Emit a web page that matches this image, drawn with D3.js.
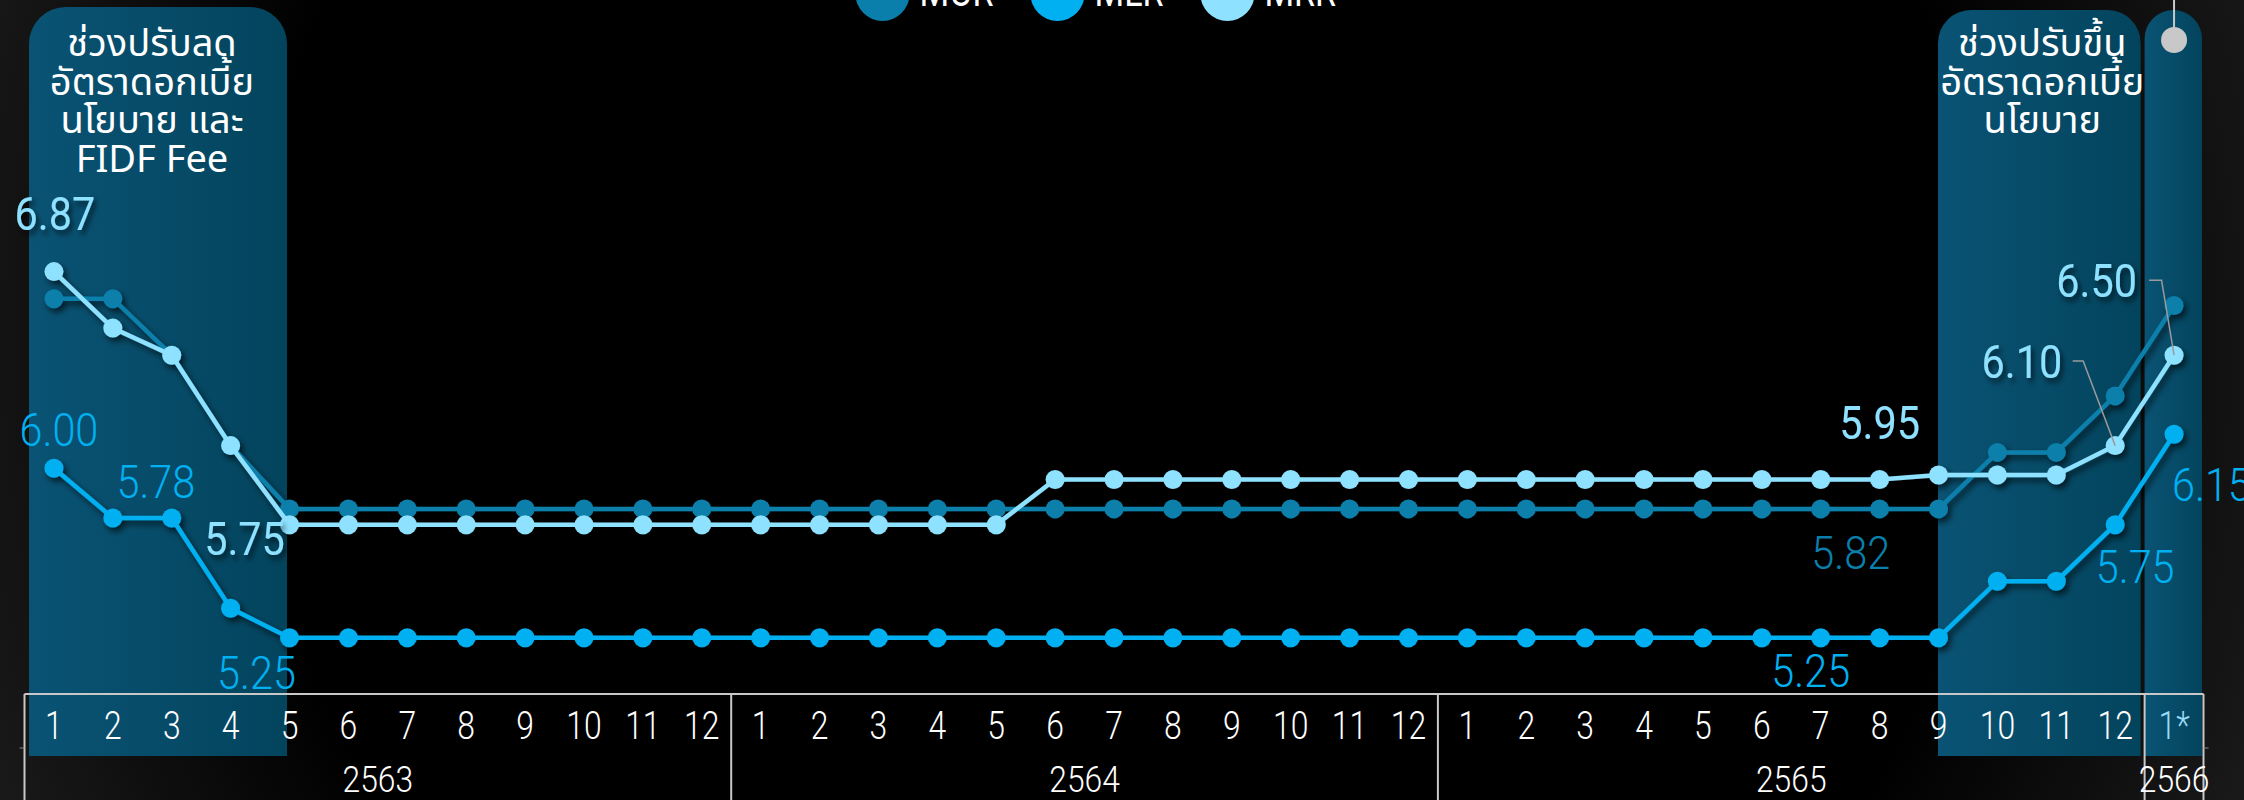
<!DOCTYPE html>
<html>
<head>
<meta charset="utf-8">
<script src="https://cdn.jsdelivr.net/npm/d3@7"></script>
<style>
  html, body { margin: 0; padding: 0; background: #000; }
  svg { display: block; }
</style>
</head>
<body>
<div id="chart"></div>
<script>
// ---- data ----
var monthLabels = ["1","2","3","4","5","6","7","8","9","10","11","12",
                   "1","2","3","4","5","6","7","8","9","10","11","12",
                   "1","2","3","4","5","6","7","8","9","10","11","12",
                   "1*"];
var yearLabels = ["2563", "2564", "2565", "2566"];
var monthsPerYear = [12, 12, 12, 1];
var seriesNames = ["MOR", "MLR", "MRR"];

var morValues = [6.75, 6.75, 6.50, 6.10, 5.82, 5.82, 5.82, 5.82, 5.82, 5.82, 5.82, 5.82,
                 5.82, 5.82, 5.82, 5.82, 5.82, 5.82, 5.82, 5.82, 5.82, 5.82, 5.82, 5.82,
                 5.82, 5.82, 5.82, 5.82, 5.82, 5.82, 5.82, 5.82, 5.82, 6.07, 6.07, 6.32,
                 6.72];
var mlrValues = [6.00, 5.78, 5.78, 5.38, 5.25, 5.25, 5.25, 5.25, 5.25, 5.25, 5.25, 5.25,
                 5.25, 5.25, 5.25, 5.25, 5.25, 5.25, 5.25, 5.25, 5.25, 5.25, 5.25, 5.25,
                 5.25, 5.25, 5.25, 5.25, 5.25, 5.25, 5.25, 5.25, 5.25, 5.50, 5.50, 5.75,
                 6.15];
var mrrValues = [6.87, 6.62, 6.50, 6.10, 5.75, 5.75, 5.75, 5.75, 5.75, 5.75, 5.75, 5.75,
                 5.75, 5.75, 5.75, 5.75, 5.75, 5.95, 5.95, 5.95, 5.95, 5.95, 5.95, 5.95,
                 5.95, 5.95, 5.95, 5.95, 5.95, 5.95, 5.95, 5.95, 5.97, 5.97, 5.97, 6.10,
                 6.50];

var cutPeriodText = ["ช่วงปรับลด", "อัตราดอกเบี้ย", "นโยบาย และ", "FIDF Fee"];
var hikePeriodText = ["ช่วงปรับขึ้น", "อัตราดอกเบี้ย", "นโยบาย"];
var cutPeriod = [0, 4];     // month index range
var hikePeriod = [32, 35];
var latestIndex = 36;

// ---- setup ----
var svgWidth = 2244;
var svgHeight = 800;
var colors = { MOR: "#0a7fab", MLR: "#00b0f0", MRR: "#8ee1ff" };
var numFont = "Roboto, 'Liberation Sans', sans-serif";
var thaiFont = "'Noto Sans Thai', 'Noto Sans Thai UI', 'Noto Sans', 'DejaVu Sans', sans-serif";

var seriesValues = { MOR: morValues, MLR: mlrValues, MRR: mrrValues };

var svg = d3.select("#chart")
  .append("svg")
  .attr("width", svgWidth)
  .attr("height", svgHeight);

var defs = svg.append("defs");

var bg = defs.append("radialGradient").attr("id", "bg")
  .attr("gradientUnits", "userSpaceOnUse")
  .attr("cx", 1122).attr("cy", 350).attr("r", 1200);
bg.append("stop").attr("offset", 0).attr("stop-color", "#000");
bg.append("stop").attr("offset", 0.72).attr("stop-color", "#000");
bg.append("stop").attr("offset", 1).attr("stop-color", "#191919");

var pg = defs.append("linearGradient").attr("id", "panel")
  .attr("x1", 0).attr("x2", 1).attr("y1", 0).attr("y2", 0);
pg.append("stop").attr("offset", 0).attr("stop-color", "#0a5374");
pg.append("stop").attr("offset", 1).attr("stop-color", "#03445d");

var shadow = defs.append("filter").attr("id", "shadow")
  .attr("x", "-10%").attr("y", "-30%").attr("width", "120%").attr("height", "160%");
shadow.append("feDropShadow")
  .attr("dx", 3).attr("dy", 4).attr("stdDeviation", 3)
  .attr("flood-color", "#000").attr("flood-opacity", 0.65);

svg.append("rect").attr("width", svgWidth).attr("height", svgHeight).attr("fill", "url(#bg)");

// scales
var x = d3.scaleBand().domain(d3.range(monthLabels.length)).range([24.5, 2203.5]);
var bw = x.bandwidth();
function cx(i) { return x(i) + bw / 2; }
var y = d3.scaleLinear().domain([5.25, 6.87]).range([637.7, 271.6]);

var tableTop = 694, panelBottom = 756;

// ---- highlight panels ----
function topRounded(x0, x1, y0, y1, r) {
  return "M" + x0 + "," + y1 + "V" + (y0 + r) +
    "A" + r + "," + r + " 0 0 1 " + (x0 + r) + "," + y0 +
    "H" + (x1 - r) +
    "A" + r + "," + r + " 0 0 1 " + x1 + "," + (y0 + r) +
    "V" + y1 + "Z";
}

var p1 = [x(cutPeriod[0]) + 4.5, cx(cutPeriod[1]) - 2.5];
var p2 = [cx(hikePeriod[0]) - 0.5, x(hikePeriod[1]) + bw - 4];
var p3 = [x(latestIndex), x(latestIndex) + bw - 1.5];

var panels = svg.append("g");
panels.append("path").attr("d", topRounded(p1[0], p1[1], 7, panelBottom, 37)).attr("fill", "url(#panel)");
panels.append("path").attr("d", topRounded(p2[0], p2[1], 10, panelBottom, 33)).attr("fill", "url(#panel)");
panels.append("path").attr("d", topRounded(p3[0], p3[1], 10, panelBottom, (p3[1] - p3[0]) / 2)).attr("fill", "url(#panel)");

panels.selectAll("text.cut").data(cutPeriodText).enter()
  .append("text")
  .attr("x", 152)
  .attr("y", function (d, i) { return 56 + i * 38.6; })
  .attr("text-anchor", "middle")
  .style("font-family", thaiFont)
  .style("font-size", "38px")
  .style("fill", "#fff")
  .text(function (d) { return d; });

panels.selectAll("text.hike").data(hikePeriodText).enter()
  .append("text")
  .attr("x", (p2[0] + p2[1]) / 2 + 3)
  .attr("y", function (d, i) { return 56 + i * 38.6; })
  .attr("text-anchor", "middle")
  .style("font-family", thaiFont)
  .style("font-size", "38px")
  .style("fill", "#fff")
  .text(function (d) { return d; });

// grey marker on latest month
panels.append("line")
  .attr("x1", cx(latestIndex)).attr("x2", cx(latestIndex))
  .attr("y1", 0).attr("y2", 40)
  .attr("stroke", "#c8c8c8").attr("stroke-width", 2);
panels.append("circle")
  .attr("cx", cx(latestIndex)).attr("cy", 40).attr("r", 13)
  .attr("fill", "#c8c8c8");

// ---- month / year table ----
var table = svg.append("g");
var xStart = x.range()[0], xEnd = x.range()[1];
table.append("line")
  .attr("x1", xStart).attr("x2", xEnd)
  .attr("y1", tableTop).attr("y2", tableTop)
  .attr("stroke", "#c8c8c8").attr("stroke-width", 2);

var bounds = [0];
monthsPerYear.forEach(function (n, i) { bounds.push(bounds[i] + n); });
var boundX = bounds.map(function (b) { return b < monthLabels.length ? x(b) : xEnd; });

table.selectAll("line.div").data(boundX).enter()
  .append("line")
  .attr("x1", function (d) { return d; }).attr("x2", function (d) { return d; })
  .attr("y1", tableTop).attr("y2", svgHeight)
  .attr("stroke", "#c8c8c8").attr("stroke-width", 2);

table.append("line").attr("x1", xStart - 5).attr("x2", xStart).attr("y1", 748).attr("y2", 748)
  .attr("stroke", "#888").attr("stroke-width", 1);
table.append("line").attr("x1", xEnd).attr("x2", xEnd + 5).attr("y1", 748).attr("y2", 748)
  .attr("stroke", "#888").attr("stroke-width", 1);

table.selectAll("text.month").data(monthLabels).enter()
  .append("text")
  .attr("text-anchor", "middle")
  .attr("transform", function (d, i) { return "translate(" + cx(i) + ",739) scale(0.84,1)"; })
  .style("font-family", numFont)
  .style("font-weight", 300)
  .style("font-size", "38px")
  .style("fill", function (d, i) { return i === latestIndex ? "#9adcf4" : "#fff"; })
  .text(function (d) { return d; });

table.selectAll("text.year").data(yearLabels).enter()
  .append("text")
  .attr("text-anchor", "middle")
  .attr("transform", function (d, i) {
    return "translate(" + ((boundX[i] + boundX[i + 1]) / 2) + ",792) scale(0.86,1)";
  })
  .style("font-family", numFont)
  .style("font-weight", 300)
  .style("font-size", "37px")
  .style("fill", "#fff")
  .text(function (d) { return d; });

// ---- lines ----
var line = d3.line()
  .x(function (d, i) { return cx(i); })
  .y(function (d) { return y(d); });

var plot = svg.append("g").attr("filter", "url(#shadow)");
seriesNames.forEach(function (name) {
  var g = plot.append("g");
  g.append("path")
    .datum(seriesValues[name])
    .attr("d", line)
    .attr("fill", "none")
    .attr("stroke", colors[name])
    .attr("stroke-width", 4.5);
  g.selectAll("circle").data(seriesValues[name]).enter()
    .append("circle")
    .attr("cx", function (d, i) { return cx(i); })
    .attr("cy", function (d) { return y(d); })
    .attr("r", 9.5)
    .attr("fill", colors[name]);
});

// ---- value callouts (placement offsets from the point) ----
var callouts = [
  { s: "MRR", i: 0,  dx: 1,   dy: -42, a: "middle" },
  { s: "MLR", i: 0,  dx: 5,   dy: -22, a: "middle" },
  { s: "MLR", i: 1,  dx: 43,  dy: -20, a: "middle" },
  { s: "MRR", i: 4,  dx: -45, dy: 30,  a: "middle" },
  { s: "MLR", i: 4,  dx: -33, dy: 51,  a: "middle" },
  { s: "MRR", i: 31, dx: 0,   dy: -41, a: "middle" },
  { s: "MOR", i: 30, dx: 30,  dy: 60,  a: "middle" },
  { s: "MLR", i: 30, dx: -10, dy: 49,  a: "middle" },
  { s: "MRR", i: 35, dx: -53, dy: -68, a: "end", leader: [[-42.5, -84.7], [-32, -84.7]] },
  { s: "MRR", i: 36, dx: -37, dy: -58, a: "end", leader: [[-25, -75], [-12.5, -75]] },
  { s: "MLR", i: 36, dx: -2,  dy: 67,  a: "start" },
  { s: "MLR", i: 35, dx: 20,  dy: 58,  a: "middle" }
];

var fmt = d3.format(".2f");
var labels = svg.append("g");
callouts.forEach(function (c) {
  var px = cx(c.i), py = y(seriesValues[c.s][c.i]);
  if (c.leader) {
    var pts = c.leader.map(function (o) { return [px + o[0], py + o[1]]; });
    pts.push([px, py]);
    labels.append("path")
      .attr("d", d3.line()(pts))
      .attr("fill", "none")
      .attr("stroke", "#9a9a9a")
      .attr("stroke-width", 1.5);
  }
  var t = labels.append("text")
    .attr("text-anchor", c.a)
    .attr("transform", "translate(" + (px + c.dx) + "," + (py + c.dy) + ") scale(0.9,1)")
    .style("font-family", numFont)
    .style("font-size", "46px")
    .style("font-weight", c.s === "MRR" ? 400 : 300)
    .style("fill", colors[c.s])
    .text(fmt(seriesValues[c.s][c.i]));
  if (c.s === "MRR") t.attr("filter", "url(#shadow)");
});

// ---- legend (cut off at the top edge) ----
var legend = svg.append("g");
var lx = 855.5, legendR = 27;
seriesNames.forEach(function (name) {
  legend.append("circle")
    .attr("cx", lx + legendR).attr("cy", -6).attr("r", legendR)
    .attr("fill", colors[name]);
  var t = legend.append("text")
    .attr("transform", "translate(" + (lx + 2 * legendR + 10) + ",6) scale(0.85,1)")
    .style("font-family", numFont)
    .style("font-size", "40px")
    .style("fill", "#fff")
    .text(name);
  lx += 2 * legendR + 10 + t.node().getComputedTextLength() * 0.85 + 37;
});
</script>
</body>
</html>
